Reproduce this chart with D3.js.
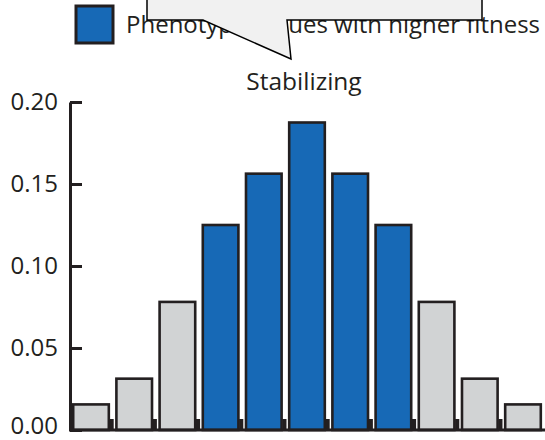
<!DOCTYPE html>
<html lang="en">
<head>
    <title>Stabilizing</title>
    <meta charset="utf-8"/>
    <script src="https://d3js.org/d3.v7.min.js"></script>
    <style>
        body { margin: 0; background: #fff; }
        text { font-family: "Open Sans", sans-serif; fill: #231f20; }
    </style>
</head>
<body>

<div id="viz">
    <svg width="545" height="440"></svg>
</div>

<script type="text/javascript">

    // datos
    const categories = ["1", "2", "3", "4", "5", "6", "7", "8", "9", "10", "11"];
    const values = [0.0156, 0.0313, 0.0781, 0.125, 0.1563, 0.1875, 0.1563, 0.125, 0.0781, 0.0313, 0.0156];
    const fitter = ["4", "5", "6", "7", "8"];
    const yTicks = [0, 0.05, 0.10, 0.15, 0.20];
    const title = "Stabilizing";
    const legendLabel = "Phenotypic values with higher fitness";

    const blue = "#1769b6", grey = "#d1d3d4", ink = "#231f20";

    const svg = d3.select("svg");

    // escalas
    let xScale = d3.scaleBand()
        .domain(categories)
        .range([72, 542])
        .paddingInner(0.12)
        .paddingOuter(0);

    let yScale = d3.scaleLinear()
        .domain([0, 0.2])
        .range([430, 102]);

    // barras
    svg.append("g")
        .selectAll("rect")
        .data(categories)
        .join("rect")
        .attr("x", d => xScale(d) + 1.2)
        .attr("y", (d, i) => yScale(values[i]))
        .attr("width", xScale.bandwidth() - 2.4)
        .attr("height", (d, i) => yScale(0) - yScale(values[i]))
        .attr("fill", d => fitter.includes(d) ? blue : grey)
        .attr("stroke", ink)
        .attr("stroke-width", 2.6);

    // pequeñas marcas entre barras en la base
    svg.append("g")
        .selectAll("rect")
        .data(categories.slice(0, -1))
        .join("rect")
        .attr("x", d => xScale(d) + xScale.bandwidth() - 0.5)
        .attr("y", 419)
        .attr("width", xScale.step() - xScale.bandwidth() - 1)
        .attr("height", 11)
        .attr("fill", ink);

    // línea base
    svg.append("line")
        .attr("x1", 69).attr("x2", 545)
        .attr("y1", 430).attr("y2", 430)
        .attr("stroke", ink)
        .attr("stroke-width", 3);

    // eje Y
    let yAxis = d3.axisRight(yScale)
        .tickValues(yTicks)
        .tickSize(12)
        .tickSizeOuter(0)
        .tickFormat(d3.format(".2f"));
    let yPlot = svg.append("g")
        .attr("transform", "translate(70,0)")
        .call(yAxis);
    yPlot.select(".domain")
        .attr("stroke", ink)
        .attr("stroke-width", 3);
    yPlot.selectAll(".tick line")
        .attr("stroke", ink)
        .attr("stroke-width", 3);
    yPlot.selectAll(".tick text")
        .attr("x", -12)
        .attr("dy", d => d === 0 ? "0.14em" : "0.33em")
        .attr("text-anchor", "end")
        .style("font-size", "24px")
        .style("fill", ink);

    // título
    svg.append("text")
        .attr("x", 304)
        .attr("y", 90)
        .attr("text-anchor", "middle")
        .style("font-size", "24.5px")
        .text(title);

    // leyenda
    svg.append("rect")
        .attr("x", 76).attr("y", 6)
        .attr("width", 37).attr("height", 37)
        .attr("fill", blue)
        .attr("stroke", ink)
        .attr("stroke-width", 3);
    svg.append("text")
        .attr("x", 126)
        .attr("y", 33)
        .style("font-size", "24px")
        .text(legendLabel);

    // globo de diálogo que tapa parte de la leyenda
    svg.append("path")
        .attr("d", "M147,-5 L147,20 L203,20 L291,59 L287,20 L482,20 L482,-5")
        .attr("fill", "#f1f1f1")
        .attr("stroke", "#000")
        .attr("stroke-width", 1.5);

</script>
</body>
</html>
